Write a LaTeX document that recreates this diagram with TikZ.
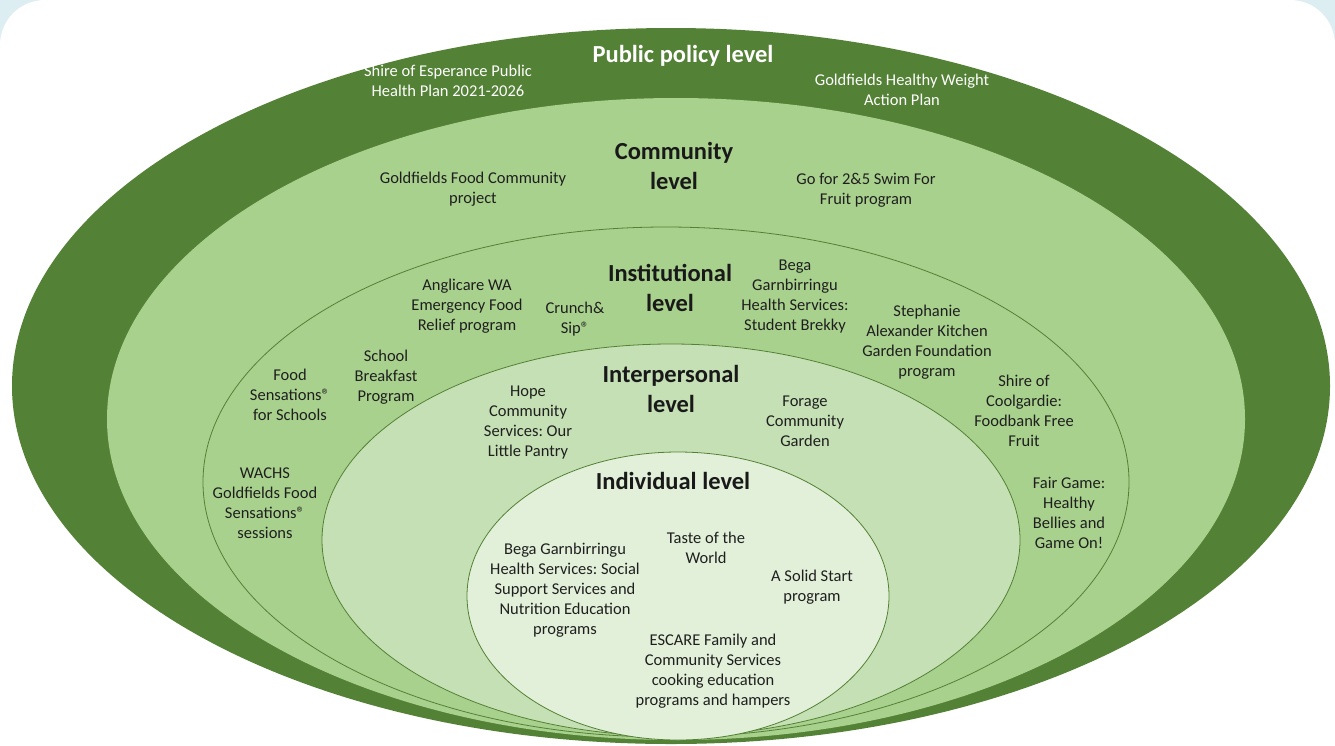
\documentclass[tikz,border=0pt]{standalone}
\usepackage{fontspec}
\setmainfont{Carlito}
\definecolor{bgblue}{HTML}{DDEEF3}
\definecolor{dgreen}{HTML}{538135}
\definecolor{commg}{HTML}{A9D18E}
\definecolor{instg}{HTML}{A9D18E}
\definecolor{interg}{HTML}{C5E0B4}
\definecolor{indg}{HTML}{E2F0D9}
\newcommand{\regm}{®}
\tikzset{
  lbl/.style={align=center, inner sep=0pt, font=\fontsize{16.5}{20}\selectfont, text=black!88},
  wlbl/.style={lbl, text=white},
  head/.style={align=center, inner sep=0pt, font=\fontsize{24.5}{30}\selectfont\bfseries, text=black!90},
  whead/.style={head, text=white},
  ring/.style={draw=dgreen, line width=0.8pt}
}
\begin{document}
\frenchspacing
\begin{tikzpicture}[x=1pt,y=-1pt]
\useasboundingbox (0,0) rectangle (1335,745);
\clip (0,0) rectangle (1335,745);
\fill[bgblue] (0,0) rectangle (1335,745);
\fill[white, rounded corners=45pt] (0,0) rectangle (1335,845);
% ellipses
\fill[dgreen] (671,386) ellipse [x radius=659pt, y radius=358pt];
\fill[commg] (676,419) ellipse [x radius=569pt, y radius=321pt];
\filldraw[fill=instg, ring] (666,482) ellipse [x radius=463pt, y radius=255pt];
\filldraw[fill=interg, ring] (671,540) ellipse [x radius=349pt, y radius=196pt];
\filldraw[fill=indg, ring] (678,596) ellipse [x radius=211pt, y radius=144pt];
% public policy
\node[whead] (pp) at (683,56) {Public policy level};
\node[wlbl] (pp1) at (448,81) {Shire of Esperance Public\\Health Plan 2021-2026};
\node[wlbl] (pp2) at (902,90) {Goldfields Healthy Weight\\Action Plan};
% community
\node[head] (cl) at (674,166) {Community\\level};
\node[lbl] (c1) at (473,189) {Goldfields Food Community\\project};
\node[lbl] (c2) at (866,190) {Go for 2\&5 Swim For\\Fruit program};
% institutional
\node[head] (il) at (670,288) {Institutional\\level};
\node[lbl] (i1) at (467,306) {Anglicare WA\\Emergency Food\\Relief program};
\node[lbl] (i2) at (575,319) {Crunch\&\\Sip\regm};
\node[lbl] (i3) at (795,297) {Bega\\Garnbirringu\\Health Services:\\Student Brekky};
\node[lbl] (i4) at (927,342) {Stephanie\\Alexander Kitchen\\Garden Foundation\\program};
\node[lbl] (i5) at (386,377) {School\\Breakfast\\Program};
\node[lbl] (i6) at (290,395) {Food\\Sensations\regm\\for Schools};
\node[lbl] (i7) at (1024,411) {Shire of\\Coolgardie:\\Foodbank Free\\Fruit};
\node[lbl] (i8) at (265,503) {WACHS\\Goldfields Food\\Sensations\regm\\sessions};
\node[lbl] (i9) at (1069,513) {Fair Game:\\Healthy\\Bellies and\\Game On!};
% interpersonal
\node[head] (pl) at (671,389) {Interpersonal\\level};
\node[lbl] (p1) at (528,423) {Hope\\Community\\Services: Our\\Little Pantry};
\node[lbl] (p2) at (805,421) {Forage\\Community\\Garden};
% individual
\node[head] (dl) at (673,481) {Individual level};
\node[lbl] (d1) at (565,590) {Bega Garnbirringu\\Health Services: Social\\Support Services and\\Nutrition Education\\programs};
\node[lbl] (d2) at (706,548) {Taste of the\\World};
\node[lbl] (d3) at (812,587) {A Solid Start\\program};
\node[lbl] (d4) at (713,671) {ESCARE Family and\\Community Services\\cooking education\\programs and hampers};
\end{tikzpicture}
\end{document}
